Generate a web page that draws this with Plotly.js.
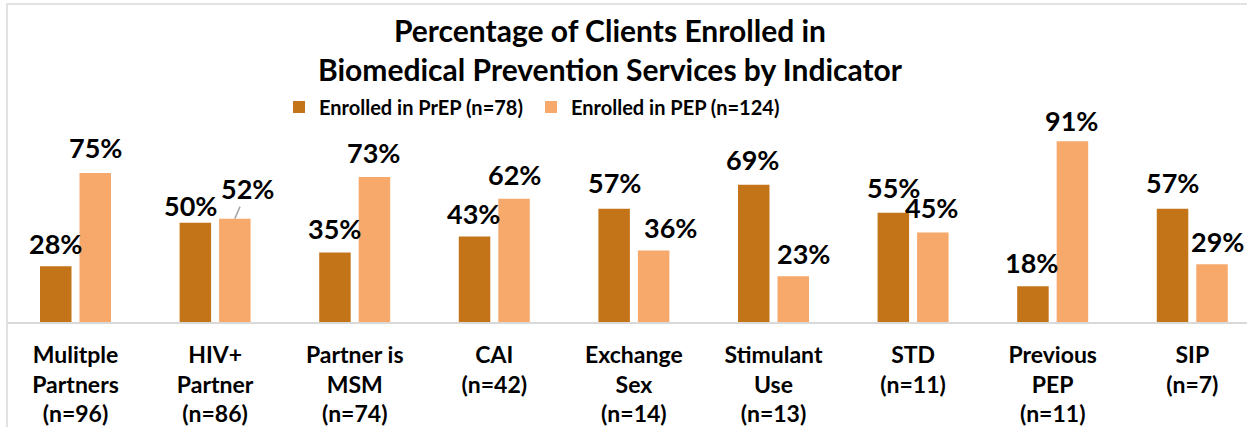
<!DOCTYPE html>
<html>
<head>
<meta charset="utf-8">
<script src="https://cdn.plot.ly/plotly-3.0.1.min.js"></script>
<style>
html,body{margin:0;padding:0;background:#fff;overflow:hidden;}
#chart{width:1247px;height:427px;}
</style>
</head>
<body>
<div id="chart"></div>
<script>
// ---- data ----
const categories = [
  "Mulitple<br>Partners<br>(n=96)",
  "HIV+<br>Partner<br>(n=86)",
  "Partner is<br>MSM<br>(n=74)",
  "CAI<br>(n=42)",
  "Exchange<br>Sex<br>(n=14)",
  "Stimulant<br>Use<br>(n=13)",
  "STD<br>(n=11)",
  "Previous<br>PEP<br>(n=11)",
  "SIP<br>(n=7)"
];
const prepName = "Enrolled in PrEP (n=78)";
const pepName = "Enrolled in PEP (n=124)";
const prepValues = [28, 50, 35, 43, 57, 69, 55, 18, 57];
const pepValues  = [75, 52, 73, 62, 36, 23, 45, 91, 29];

// ---- style ----
const FONT = "Lato, 'Open Sans', sans-serif";
const darkColor = "#C47418";
const lightColor = "#F7A86B";
const barW = 0.2256, barGap = 0.0573;
const offDark = -(barW + barGap / 2), offLight = barGap / 2;
const centerDark = offDark + barW / 2, centerLight = offLight + barW / 2;
// label nudges (pixels): [dx, gap above bar top]
const prepNudge = [[0,23],[-5,17],[0,24],[-1,23],[0,26],[-1,25],[0,25],[-1,24],[0,26]];
const pepNudge  = [[0,25],[13,30],[-1,24],[0,24],[17,23],[10,23],[-1,25],[-1,21],[5,23]];

const idx = categories.map((_, i) => i);

const traces = [
  {type: "bar", name: prepName, x: idx, y: prepValues, width: barW, offset: offDark,
   marker: {color: darkColor, line: {width: 0}}, hoverinfo: "skip"},
  {type: "bar", name: pepName, x: idx, y: pepValues, width: barW, offset: offLight,
   marker: {color: lightColor, line: {width: 0}}, hoverinfo: "skip"}
];

const labelFont = {family: FONT, size: 27, color: "#000", weight: 700};
const annotations = [];
idx.forEach(i => {
  annotations.push({x: i + centerDark, y: prepValues[i], xref: "x", yref: "y",
    text: prepValues[i] + "%", showarrow: false, yanchor: "middle", xanchor: "center",
    xshift: prepNudge[i][0], yshift: prepNudge[i][1], font: labelFont});
  if (i === 1) {
    annotations.push({x: i + centerLight, y: pepValues[i], xref: "x", yref: "y",
      text: pepValues[i] + "%", showarrow: true, arrowhead: 0, arrowwidth: 1.5,
      arrowcolor: "#A6A6A6", standoff: 0, ax: pepNudge[i][0], ay: -pepNudge[i][1],
      font: labelFont});
  } else {
    annotations.push({x: i + centerLight, y: pepValues[i], xref: "x", yref: "y",
      text: pepValues[i] + "%", showarrow: false, yanchor: "middle", xanchor: "center",
      xshift: pepNudge[i][0], yshift: pepNudge[i][1], font: labelFont});
  }
});

const layout = {
  width: 1247, height: 427,
  margin: {l: 7, r: 0, t: 4, b: 105},
  paper_bgcolor: "#fff", plot_bgcolor: "#fff",
  font: {family: FONT, color: "#000"},
  title: {
    text: "Percentage of Clients Enrolled in<br>Biomedical Prevention Services by Indicator",
    font: {family: FONT, size: 30, color: "#000", weight: 700},
    x: 610 / 1247, xanchor: "center", xref: "container",
    y: 1 - 42 / 427, yanchor: "top", yref: "container"
  },
  showlegend: true,
  legend: {orientation: "h", x: (279 - 7) / 1240, xanchor: "left", y: (322 - 107) / 318, yanchor: "middle",
    font: {family: FONT, size: 20, color: "#000", weight: 700}, bgcolor: "rgba(0,0,0,0)",
    traceorder: "normal", entrywidth: 207, entrywidthmode: "pixels"},
  xaxis: {
    range: [-0.4907, 8.392], tickmode: "array", tickvals: idx, ticktext: categories,
    showgrid: false, zeroline: false, showline: true, linecolor: "#D9D9D9", linewidth: 2,
    ticks: "", ticklabelstandoff: 11,
    tickfont: {family: FONT, size: 23, color: "#000", weight: 700}
  },
  yaxis: {range: [0, 160], visible: false, showgrid: false, zeroline: false, fixedrange: true},
  annotations: annotations,
  shapes: [{type: "rect", xref: "paper", yref: "paper", x0: 0, x1: 1.01, y0: -0.5, y1: 1,
    line: {color: "#D9D9D9", width: 1.5}, fillcolor: "rgba(0,0,0,0)", layer: "below"}]
};

Plotly.newPlot("chart", traces, layout, {displayModeBar: false, staticPlot: true});
</script>
</body>
</html>
